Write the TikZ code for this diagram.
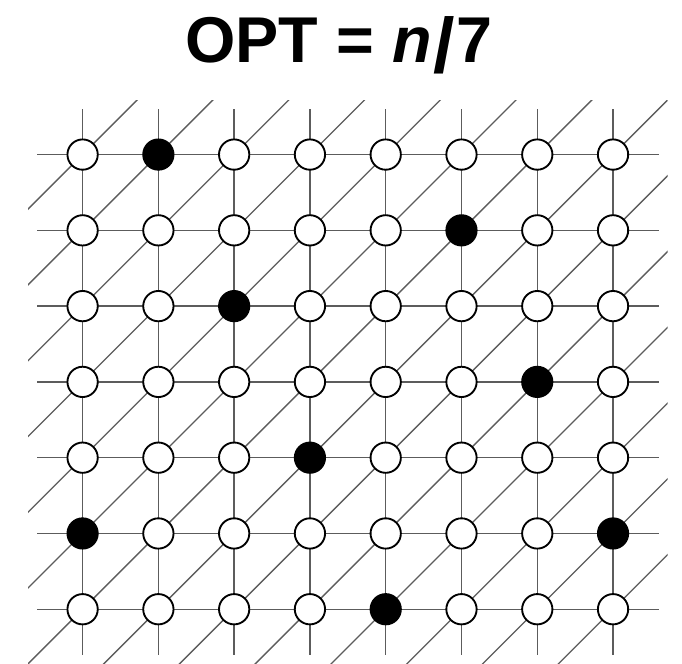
\documentclass[tikz,border=0pt]{standalone}
\usepackage{fontspec}
\newfontfamily\titlefont{Liberation Sans}
\usetikzlibrary{positioning}

\begin{document}
\begin{tikzpicture}[line join=round,
  grid line/.style={draw=black!64,line width=0.5pt},
  open node/.style={circle,draw,line width=0.7pt,fill=white,inner sep=0pt,minimum size=0.4cm},
  filled node/.style={open node,fill=black}]
\useasboundingbox (-1.09,-0.72) rectangle (7.91,8.04);
\node[anchor=base,font=\titlefont\bfseries\fontsize{24.3}{30}\selectfont] (title) at (3.38,7.22)
  {OPT = \textit{n}\kern0.03em{\fontsize{29}{30}\selectfont\raisebox{-0.14em}{/}}\kern0.02em7};
\foreach \i in {0,...,7}
  \foreach \j in {0,...,6}
    \coordinate (c\i\j) at (\i,\j);
% lattice lines
\foreach \j in {0,...,6}
  \draw[grid line] ([xshift=-6mm]c0\j) -- ([xshift=6mm]c7\j);
\foreach \i in {0,...,7}
  \draw[grid line] ([yshift=-6mm]c\i0) -- ([yshift=6mm]c\i6);
\begin{scope}
\clip (-0.72,-0.72) rectangle (7.72,6.72);
\foreach \i in {0,...,7}
  \draw[grid line] ([shift={(-1,-1)}]c\i0) -- ([shift={(8,8)}]c\i0);
\foreach \j in {1,...,6}
  \draw[grid line] ([shift={(-1,-1)}]c0\j) -- ([shift={(8,8)}]c0\j);
\end{scope}
% vertices, one row at a time
\foreach \j/\row in {
  6/{open node,filled node,open node,open node,open node,open node,open node,open node},
  5/{open node,open node,open node,open node,open node,filled node,open node,open node},
  4/{open node,open node,filled node,open node,open node,open node,open node,open node},
  3/{open node,open node,open node,open node,open node,open node,filled node,open node},
  2/{open node,open node,open node,filled node,open node,open node,open node,open node},
  1/{filled node,open node,open node,open node,open node,open node,open node,filled node},
  0/{open node,open node,open node,open node,filled node,open node,open node,open node}}
  \foreach \s [count=\i from 0] in \row
    \node[\s] (v\i\j) at (c\i\j) {};
\end{tikzpicture}
\end{document}
